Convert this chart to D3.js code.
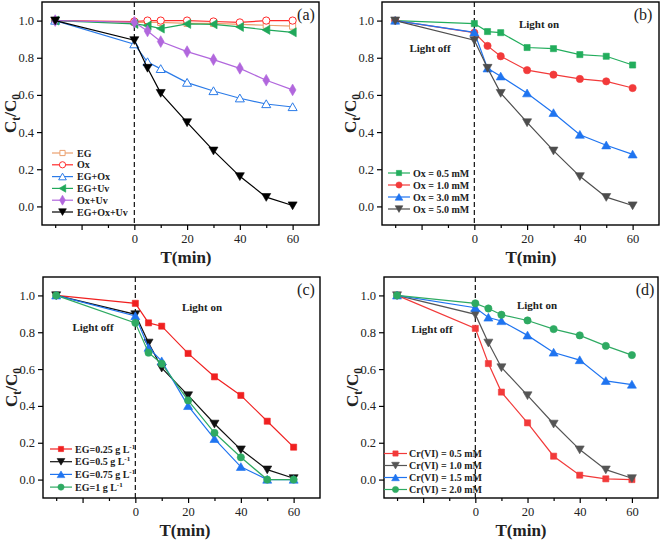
<!DOCTYPE html>
<html><head><meta charset="utf-8">
<script src="https://cdn.jsdelivr.net/npm/d3@7"></script>
<style>body{margin:0;background:#fff}svg{display:block}text{font-family:"Liberation Serif","Times New Roman",serif}</style>
</head><body>
<svg id="c" width="661" height="543"></svg>
<script>
const times = [-30, 0, 5, 10, 20, 30, 40, 50, 60];
const xTicksMajor = [-20, 0, 20, 40, 60];
const xTickLabels = ["", "0", "20", "40", "60"];
const xTicksMinor = [-30, -10, 10, 30, 50];
const yTicks = [0.0, 0.2, 0.4, 0.6, 0.8, 1.0];

// panel (a)
const aLabels = ["EG", "Ox", "EG+Ox", "EG+Uv", "Ox+Uv", "EG+Ox+Uv"];
const aEG     = [1.0, 0.99, 0.99, 0.99, 0.985, 0.985, 0.98, 0.975, 0.97];
const aOx     = [1.0, 0.995, 1.0, 1.0, 1.0, 0.995, 0.99, 1.0, 1.0];
const aEGOx   = [1.0, 0.873, 0.777, 0.74, 0.666, 0.621, 0.582, 0.551, 0.535];
const aEGUv   = [1.0, 0.982, 0.973, 0.957, 0.982, 0.98, 0.966, 0.95, 0.937];
const aOxUv   = [1.0, 0.991, 0.944, 0.887, 0.833, 0.79, 0.743, 0.679, 0.627];
const aEGOxUv = [1.0, 0.894, 0.745, 0.61, 0.452, 0.30, 0.162, 0.05, 0.005];

// panel (b)
const bLabels = ["Ox = 0.5 mM", "Ox = 1.0 mM", "Ox = 3.0 mM", "Ox = 5.0 mM"];
const b05 = [1.0, 0.984, 0.941, 0.935, 0.855, 0.849, 0.817, 0.808, 0.761];
const b10 = [1.0, 0.935, 0.864, 0.808, 0.733, 0.709, 0.686, 0.673, 0.637];
const b30 = [1.0, 0.937, 0.743, 0.70, 0.609, 0.503, 0.386, 0.329, 0.28];
const b50 = [1.0, 0.894, 0.745, 0.61, 0.452, 0.30, 0.162, 0.05, 0.005];

// panel (c)
const cLabels = ["EG=0.25 g L", "EG=0.5 g L", "EG=0.75 g L", "EG=1 g L"];
const c025 = [1.0, 0.957, 0.851, 0.833, 0.685, 0.558, 0.457, 0.317, 0.176];
const c05  = [1.0, 0.897, 0.743, 0.607, 0.457, 0.303, 0.163, 0.054, 0.007];
const c075 = [1.0, 0.888, 0.716, 0.643, 0.40, 0.221, 0.069, 0.0, 0.0];
const c1   = [1.0, 0.851, 0.689, 0.629, 0.43, 0.254, 0.121, 0.0, 0.0];

// panel (d)
const dLabels = ["Cr(VI) = 0.5 mM", "Cr(VI) = 1.0 mM", "Cr(VI) = 1.5 mM", "Cr(VI) = 2.0 mM"];
const d05 = [1.0, 0.821, 0.63, 0.475, 0.308, 0.127, 0.024, 0.004, 0.0];
const d10 = [1.0, 0.897, 0.743, 0.609, 0.457, 0.303, 0.163, 0.054, 0.007];
const d15 = [1.0, 0.933, 0.88, 0.861, 0.783, 0.69, 0.649, 0.536, 0.516];
const d20 = [1.0, 0.957, 0.929, 0.895, 0.864, 0.817, 0.783, 0.726, 0.676];

const svg = d3.select("#c");

const SYM = {
  square: {t: d3.symbolSquare, r: 0},
  circle: {t: d3.symbolCircle, r: 0},
  up: {t: d3.symbolTriangle, r: 0},
  down: {t: d3.symbolTriangle, r: 180},
  left: {t: d3.symbolTriangle, r: -90},
  diamond: {t: d3.symbolDiamond, r: 0}
};

function marker(g, x, y, shape, color, open, size) {
  const s = SYM[shape];
  const area = shape === "circle" ? size * 0.95 : shape === "diamond" ? size * 0.9 : shape === "square" ? size * 0.85 : size * 0.8;
  g.append("path")
    .attr("d", d3.symbol().type(s.t).size(area)())
    .attr("transform", `translate(${x},${y}) rotate(${s.r})` + (shape === "down" || shape === "up" || shape === "left" ? " translate(0,1)" : ""))
    .attr("fill", open ? "#fff" : color)
    .attr("stroke", color)
    .attr("stroke-width", open ? 1 : 0.6);
}

function panel(cfg) {
  const {L, R, T, B} = cfg;
  const x = d3.scaleLinear().domain([-35, 70]).range([L, R]);
  const y = d3.scaleLinear().domain([-0.1, 1.1]).range([B, T]);
  const g = svg.append("g");

  const xa = d3.axisBottom(x).tickValues(xTicksMajor).tickSize(5).tickPadding(4)
    .tickFormat((d, i) => xTickLabels[i]);
  const gx = g.append("g").attr("transform", `translate(0,${B})`).call(xa);
  const xm = d3.axisBottom(x).tickValues(xTicksMinor).tickSize(3).tickFormat("");
  const gxm = g.append("g").attr("transform", `translate(0,${B})`).call(xm);
  const ya = d3.axisLeft(y).tickValues(yTicks).tickSize(5).tickPadding(3).tickFormat(d3.format(".1f"));
  const gy = g.append("g").attr("transform", `translate(${L},0)`).call(ya);
  [gx, gxm, gy].forEach(a => {
    a.select(".domain").remove();
    a.selectAll("line").attr("stroke", "#000").attr("stroke-width", 1.2);
    a.selectAll("text").attr("font-size", 12.5).attr("fill", "#222")
      .attr("font-family", "Liberation Serif, serif");
  });

  g.append("rect").attr("x", L).attr("y", T).attr("width", R - L).attr("height", B - T)
    .attr("fill", "none").attr("stroke", "#000").attr("stroke-width", 1.4);

  g.append("line").attr("x1", x(0)).attr("x2", x(0)).attr("y1", T).attr("y2", B)
    .attr("stroke", "#111").attr("stroke-width", 1.2).attr("stroke-dasharray", "5,3");

  const line = d3.line().x((d, i) => x(times[i])).y(d => y(d));
  cfg.series.forEach(s => {
    g.append("path").datum(s.v).attr("d", line).attr("fill", "none")
      .attr("stroke", s.c).attr("stroke-width", 1.2);
    s.v.forEach((v, i) => marker(g, x(times[i]), y(v), s.m, s.c, s.open, 44));
  });

  const lg = cfg.legend;
  cfg.series.forEach((s, i) => {
    const yy = lg.y + i * lg.dy;
    g.append("line").attr("x1", lg.x1).attr("x2", lg.x2).attr("y1", yy).attr("y2", yy)
      .attr("stroke", s.c).attr("stroke-width", 1.2);
    marker(g, (lg.x1 + lg.x2) / 2, yy, s.m, s.c, s.open, 32);
    const t = g.append("text").attr("x", lg.tx).attr("y", yy + 3.5)
      .attr("font-size", 10).attr("font-weight", "bold").attr("fill", "#222").text(cfg.labels[i]);
    if (cfg.sup) t.append("tspan").attr("font-size", 7).attr("dy", -4).text("-1");
  });

  if (cfg.off) g.append("text").attr("x", cfg.off[0]).attr("y", cfg.off[1]).attr("text-anchor", "middle")
    .attr("font-size", 11).attr("font-weight", "bold").attr("fill", "#222").text("Light off");
  if (cfg.on) g.append("text").attr("x", cfg.on[0]).attr("y", cfg.on[1]).attr("text-anchor", "middle")
    .attr("font-size", 11).attr("font-weight", "bold").attr("fill", "#222").text("Light on");
  g.append("text").attr("x", cfg.tag[0]).attr("y", cfg.tag[1]).attr("text-anchor", "middle")
    .attr("font-size", 16).attr("fill", "#222").text(cfg.tagText);

  g.append("text").attr("x", cfg.xt).attr("y", B + 38).attr("text-anchor", "middle")
    .attr("font-size", 17).attr("font-weight", "bold").attr("fill", "#222").text("T(min)");
  const yt = g.append("text").attr("transform", `translate(${L - 26},${(T + B) / 2}) rotate(-90)`)
    .attr("text-anchor", "middle").attr("font-size", 17).attr("font-weight", "bold").attr("fill", "#222");
  yt.append("tspan").text("C");
  yt.append("tspan").attr("font-size", 11.5).attr("dy", 4).text("t");
  yt.append("tspan").attr("dy", -4).text("/C");
  yt.append("tspan").attr("font-size", 11.5).attr("dy", 4).text("0");
}

panel({
  L: 42, R: 319, T: 2, B: 225, xt: 186, tagText: "(a)", tag: [306, 20],
  labels: aLabels,
  legend: {x1: 52, x2: 73, tx: 77, y: 153, dy: 11.8},
  series: [
    {v: aEG, c: "#EBA06E", m: "square", open: true},
    {v: aOx, c: "#FF2A2A", m: "circle", open: true},
    {v: aEGOx, c: "#2B7BE8", m: "up", open: true},
    {v: aEGUv, c: "#20A85A", m: "left", open: false},
    {v: aOxUv, c: "#B167DD", m: "diamond", open: false},
    {v: aEGOxUv, c: "#000000", m: "down", open: false}
  ]
});

panel({
  L: 382, R: 659, T: 2, B: 225, xt: 531, tagText: "(b)", tag: [643, 20],
  labels: bLabels, off: [430, 52], on: [539, 28],
  legend: {x1: 388, x2: 410, tx: 413, y: 173, dy: 12},
  series: [
    {v: b05, c: "#22AD5C", m: "square"},
    {v: b10, c: "#F23A3A", m: "circle"},
    {v: b30, c: "#1F74F0", m: "up"},
    {v: b50, c: "#4D4D4D", m: "down"}
  ]
});

panel({
  L: 43, R: 320, T: 277, B: 498, xt: 185, tagText: "(c)", tag: [306, 295],
  labels: cLabels, sup: true, off: [93, 331], on: [202, 311],
  legend: {x1: 50, x2: 72, tx: 75, y: 449, dy: 12.7},
  series: [
    {v: c025, c: "#F02020", m: "square"},
    {v: c05, c: "#111111", m: "down"},
    {v: c075, c: "#1F74F0", m: "up"},
    {v: c1, c: "#2EAA62", m: "circle"}
  ]
});

panel({
  L: 384, R: 658, T: 277, B: 498, xt: 521, tagText: "(d)", tag: [645, 295],
  labels: dLabels, off: [432, 333], on: [537, 309],
  legend: {x1: 384, x2: 407, tx: 409, y: 453.5, dy: 12},
  series: [
    {v: d05, c: "#F23A3A", m: "square"},
    {v: d10, c: "#555555", m: "down"},
    {v: d15, c: "#1F74F0", m: "up"},
    {v: d20, c: "#2EAA62", m: "circle"}
  ]
});
</script>
</body></html>
